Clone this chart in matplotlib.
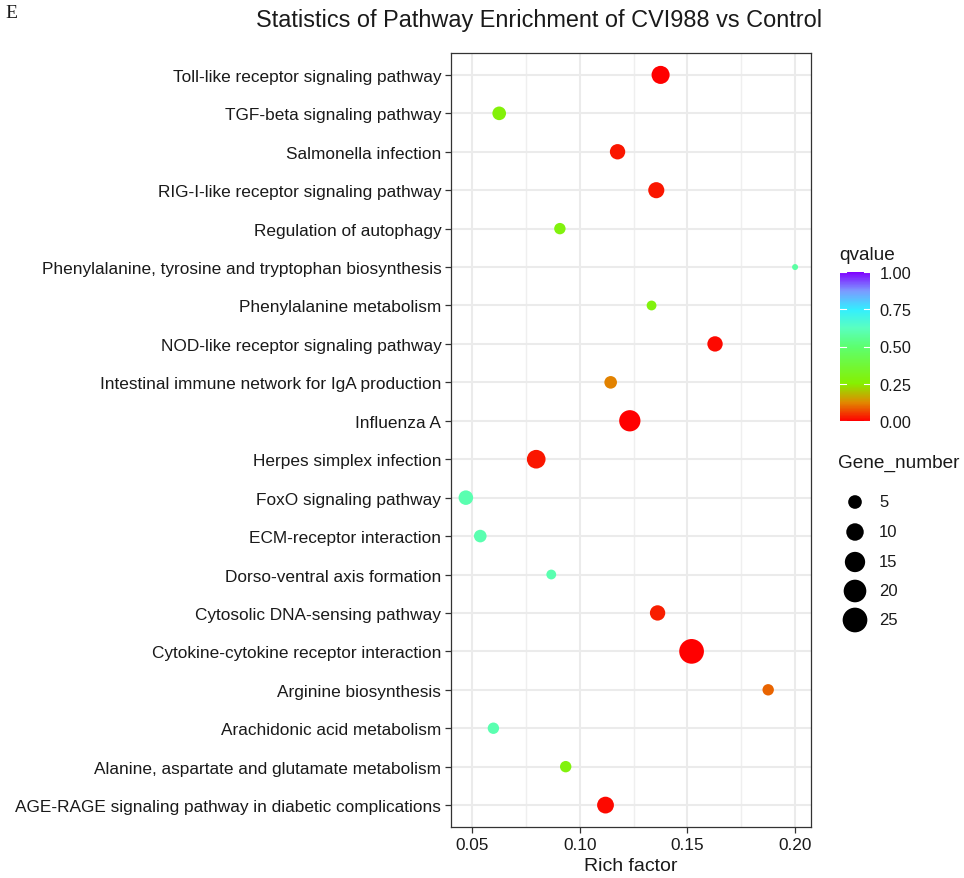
import numpy as np
import matplotlib
matplotlib.use("Agg")
import matplotlib.pyplot as plt
from matplotlib.colors import LinearSegmentedColormap, Normalize
from matplotlib.ticker import MultipleLocator

plt.rcParams["font.family"] = ["Liberation Sans", "DejaVu Sans"]

# KEGG enrichment results, bottom row first
pathways = [
    "AGE-RAGE signaling pathway in diabetic complications",
    "Alanine, aspartate and glutamate metabolism",
    "Arachidonic acid metabolism",
    "Arginine biosynthesis",
    "Cytokine-cytokine receptor interaction",
    "Cytosolic DNA-sensing pathway",
    "Dorso-ventral axis formation",
    "ECM-receptor interaction",
    "FoxO signaling pathway",
    "Herpes simplex infection",
    "Influenza A",
    "Intestinal immune network for IgA production",
    "NOD-like receptor signaling pathway",
    "Phenylalanine metabolism",
    "Phenylalanine, tyrosine and tryptophan biosynthesis",
    "Regulation of autophagy",
    "RIG-I-like receptor signaling pathway",
    "Salmonella infection",
    "TGF-beta signaling pathway",
    "Toll-like receptor signaling pathway",
]
rich_factor = [0.1119, 0.0934, 0.0598, 0.1875, 0.1519, 0.1361, 0.0867, 0.0537,
               0.0470, 0.0797, 0.1232, 0.1143, 0.1628, 0.1333, 0.2000, 0.0907,
               0.1355, 0.1175, 0.0625, 0.1375]
gene_number = [9, 3, 3, 3, 25, 7, 2, 4, 6, 12, 17, 4, 7, 2, 1, 3, 8, 7, 5, 11]
qvalue = [0.01, 0.28, 0.60, 0.09, 0.00, 0.03, 0.60, 0.60, 0.60, 0.02, 0.00,
          0.12, 0.01, 0.28, 0.58, 0.28, 0.02, 0.02, 0.27, 0.00]

size_breaks = [5, 10, 15, 20, 25]
q_breaks = [0.0, 0.25, 0.5, 0.75, 1.0]

W, H = 964, 879
DPI = 100
PX = 72 / DPI  # points per pixel
TXT = "#1A1A1A"


def marker_area(g):
    # area-scaled point size, diameter in pixels -> scatter area in pt^2
    d = 6 + 3.82 * np.sqrt(np.asarray(g, dtype=float) - 1)
    return (d * PX) ** 2


qcmap = LinearSegmentedColormap.from_list("qrainbow", [
    (0.0, "#FF0000"), (0.125, "#E08A00"), (0.25, "#86F000"),
    (0.5, "#5CFF70"), (0.625, "#5AFFC0"), (0.75, "#33EEFF"),
    (0.875, "#7C9AFF"), (1.0, "#8000FF"),
])
norm = Normalize(0, 1)

fig = plt.figure(figsize=(W / DPI, H / DPI), dpi=DPI)


def fx(px):
    return px / W


def fy(py):
    return 1 - py / H


# ===== main panel =====
ax = fig.add_axes([fx(451), fy(828), fx(811 - 451), (828 - 54) / H])
ypos = np.arange(len(pathways))
ax.set_axisbelow(True)
sc = ax.scatter(rich_factor, ypos, s=marker_area(gene_number), c=qvalue,
                cmap=qcmap, norm=norm, linewidths=0, zorder=3)

ax.set_xlim(0.0401, 0.2074)
ax.set_ylim(-0.57, len(pathways) - 1 + 0.57)
ax.xaxis.set_minor_locator(MultipleLocator(0.025))
ax.set_xticks([0.05, 0.10, 0.15, 0.20], ["0.05", "0.10", "0.15", "0.20"])
ax.set_yticks(ypos, pathways)
ax.grid(which="major", color="#EBEBEB", lw=1.5)
ax.grid(which="minor", axis="x", color="#EFEFEF", lw=1.0)
ax.tick_params(which="minor", length=0)
ax.tick_params(which="major", length=4, width=0.9, color="#333333",
               labelcolor=TXT, labelsize=12.45, pad=3)
for sp in ax.spines.values():
    sp.set_color("#333333")
    sp.set_linewidth(0.9)
ax.set_xlabel("Rich factor", fontsize=14, color=TXT, labelpad=4)

fig.text(fx(539), fy(20), "Statistics of Pathway Enrichment of CVI988 vs Control",
         ha="center", va="center", fontsize=16.9, color=TXT)
fig.text(fx(5), fy(13), "E", ha="left", va="center", fontsize=14,
         family="Liberation Serif", color=TXT)

# ===== colour legend =====
cax = fig.add_axes([fx(840), fy(422), fx(30), (422 - 273) / H])
cb = fig.colorbar(sc, cax=cax, ticks=q_breaks)
cb.outline.set_visible(False)
cb.ax.set_yticklabels([f"{q:.2f}" for q in q_breaks])
cb.ax.tick_params(length=0, labelsize=11.8, colors=TXT, pad=7)
for q in q_breaks:
    cax.plot([0, 0.2], [q, q], color="white", lw=0.8, transform=cax.get_yaxis_transform())
    cax.plot([0.8, 1.0], [q, q], color="white", lw=0.8, transform=cax.get_yaxis_transform())
fig.text(fx(839), fy(256), "qvalue", ha="left", va="center", fontsize=13.7, color=TXT)

# ===== size legend =====
lax = fig.add_axes([0, 0, 1, 1], facecolor="none")
lax.set_xlim(0, W)
lax.set_ylim(H, 0)
lax.axis("off")
leg_y = [503, 533, 563, 592, 621]
lax.scatter([855] * len(size_breaks), leg_y, s=marker_area(size_breaks),
            color="black", linewidths=0)
for g, yy in zip(size_breaks, leg_y):
    lax.text(879, yy, str(g), ha="left", va="center", fontsize=12, color=TXT)
lax.text(838, 463, "Gene_number", ha="left", va="center", fontsize=13.7, color=TXT)

fig.savefig("out.png", dpi=DPI, facecolor="white")
